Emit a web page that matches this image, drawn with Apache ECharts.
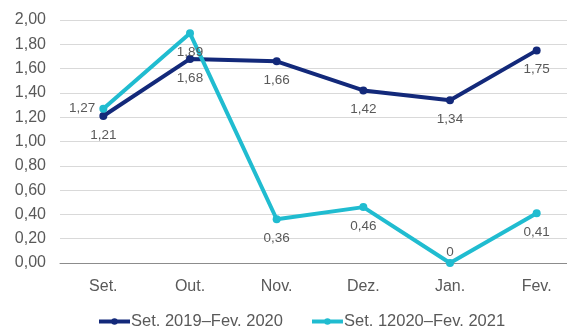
<!DOCTYPE html>
<html>
<head>
<meta charset="utf-8">
<script src="https://cdn.jsdelivr.net/npm/echarts@6/dist/echarts.min.js"></script>
<style>
  html, body { margin: 0; padding: 0; background: #ffffff; }
  #chart { width: 567px; height: 329px; }
</style>
</head>
<body>
<div id="chart"></div>
<script>
// Months from September to February
const months = ['Set.', 'Out.', 'Nov.', 'Dez.', 'Jan.', 'Fev.'];

// Season 2019–2020
const season2019Name = 'Set. 2019–Fev. 2020';
const season2019 = [1.21, 1.68, 1.66, 1.42, 1.34, 1.75];

// Season 2020–2021
const season2020Name = 'Set. 12020–Fev. 2021';
const season2020 = [1.27, 1.89, 0.36, 0.46, 0, 0.41];

// Label placement for the second series
const season2020LabelPos = ['left', 'bottom', 'bottom', 'bottom', 'top', 'bottom'];

const FONT = "'Liberation Sans', Arial, sans-serif";
const NAVY = '#13297A';
const CYAN = '#20BCD0';
const TEXT = '#595959';

const fmtValue = v => String(v).replace('.', ',');
const labelDistance = pos => (pos === 'top' ? 0 : pos === 'left' ? 4 : 8);

const chart = echarts.init(document.getElementById('chart'), null, { renderer: 'canvas' });

chart.setOption({
  animation: false,
  backgroundColor: '#ffffff',
  textStyle: { fontFamily: FONT },
  grid: {
    left: 60,
    right: -13,
    top: 20,
    bottom: 66,
    containLabel: false,
    outerBoundsMode: 'none'
  },
  legend: {
    left: 92,
    bottom: -6,
    itemWidth: 31,
    itemHeight: 8,
    itemGap: 27,
    lineStyle: { width: 4 },
    textStyle: { fontFamily: FONT, fontSize: 16.5, color: TEXT, padding: [0, 0, 0, -4] },
    data: [season2019Name, season2020Name]
  },
  xAxis: {
    type: 'category',
    data: months,
    boundaryGap: true,
    axisLine: { lineStyle: { color: '#8C8C8C', width: 1 } },
    axisTick: { show: false },
    axisLabel: { color: TEXT, fontFamily: FONT, fontSize: 16, margin: 16 }
  },
  yAxis: {
    type: 'value',
    min: 0,
    max: 2,
    interval: 0.2,
    axisLine: { show: false },
    axisTick: { show: false },
    splitLine: { lineStyle: { color: '#D9D9D9', width: 1 } },
    axisLabel: {
      color: TEXT,
      fontFamily: FONT,
      fontSize: 16,
      margin: 14,
      formatter: v => v.toFixed(2).replace('.', ',')
    }
  },
  series: [
    {
      name: season2019Name,
      type: 'line',
      data: season2019,
      color: NAVY,
      lineStyle: { width: 4, color: NAVY },
      symbol: 'circle',
      symbolSize: 8,
      itemStyle: { color: NAVY },
      z: 2,
      label: {
        show: true,
        position: 'bottom',
        distance: 8,
        color: TEXT,
        fontFamily: FONT,
        fontSize: 13.5,
        formatter: p => fmtValue(p.value)
      }
    },
    {
      name: season2020Name,
      type: 'line',
      data: season2020.map((v, i) => ({
        value: v,
        label: { position: season2020LabelPos[i], distance: labelDistance(season2020LabelPos[i]) }
      })),
      color: CYAN,
      lineStyle: { width: 4, color: CYAN },
      symbol: 'circle',
      symbolSize: 8,
      itemStyle: { color: CYAN },
      z: 3,
      label: {
        show: true,
        color: TEXT,
        fontFamily: FONT,
        fontSize: 13.5,
        formatter: p => fmtValue(p.value)
      }
    }
  ]
});
</script>
</body>
</html>
